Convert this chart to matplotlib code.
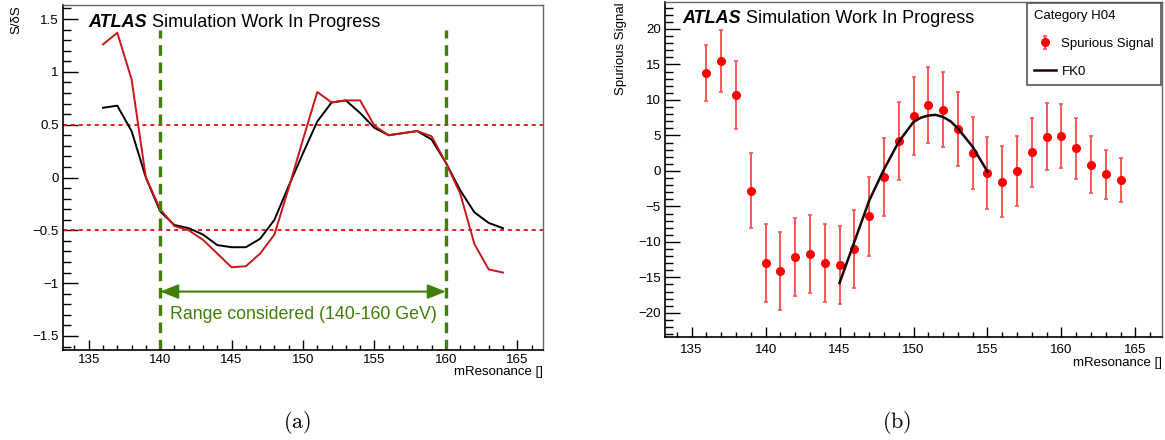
import numpy as np
import matplotlib
matplotlib.use("Agg")
import matplotlib.pyplot as plt
from matplotlib.ticker import MultipleLocator, FixedLocator, FixedFormatter

plt.rcParams['font.family'] = ['Liberation Sans', 'DejaVu Sans']
plt.rcParams['mathtext.fontset'] = 'cm'

# ---- panel (a): S/dS vs mResonance
mass = np.arange(136, 165)
sig_black = [0.66, 0.68, 0.44, 0.00, -0.32, -0.45, -0.48, -0.54, -0.64, -0.66,
             -0.66, -0.58, -0.40, -0.08, 0.23, 0.53, 0.71, 0.73, 0.61, 0.47,
             0.40, 0.42, 0.44, 0.36, 0.14, -0.12, -0.33, -0.43, -0.48]
sig_red = [1.26, 1.37, 0.93, 0.00, -0.30, -0.46, -0.50, -0.59, -0.72, -0.85,
           -0.84, -0.72, -0.54, -0.10, 0.36, 0.81, 0.71, 0.73, 0.73, 0.49,
           0.40, 0.42, 0.44, 0.39, 0.14, -0.15, -0.63, -0.87, -0.90]
yticks_a = [-1.5, -1, -0.5, 0, 0.5, 1, 1.5]
yticklabels_a = ["\u22121.5", "\u22121", "\u22120.5", "0", "0.5", "1", "1.5"]
xticks = [135, 140, 145, 150, 155, 160, 165]
xticklabels = ["135", "140", "145", "150", "155", "160", "165"]
range_lo, range_hi = 140, 160
thresh = 0.5

# ---- panel (b): spurious signal
ss_val = [13.8, 15.5, 10.7, -2.8, -13.0, -14.1, -12.1, -11.7, -13.0, -13.3,
          -11.0, -6.4, -0.9, 4.2, 7.8, 9.3, 8.6, 5.9, 2.5, -0.3,
          -1.5, 0.0, 2.6, 4.8, 4.9, 3.2, 0.9, -0.5, -1.3]
ss_err = [3.9, 4.4, 4.85, 5.3, 5.5, 5.5, 5.5, 5.5, 5.5, 5.5,
          5.5, 5.6, 5.5, 5.5, 5.5, 5.4, 5.3, 5.2, 5.1, 5.1,
          5.0, 4.9, 4.8, 4.7, 4.5, 4.3, 4.0, 3.5, 3.1]
fit_x = [145, 146, 147, 148, 149, 150, 150.5, 151, 151.5, 152, 152.5, 153, 154, 155]
fit_y = [-15.8, -10.0, -4.2, 0.2, 4.1, 6.9, 7.5, 7.8, 7.9, 7.6, 7.0, 6.0, 3.4, -0.1]
yticks_b = [-20, -15, -10, -5, 0, 5, 10, 15, 20]
yticklabels_b = ["\u221220", "\u221215", "\u221210", "\u22125", "0", "5", "10", "15", "20"]

green = '#3f7f0a'
dark_red = '#c81818'

fig = plt.figure(figsize=(11.65, 4.4), dpi=100)
ax1 = fig.add_axes([63/1165, 1-350/440, 480/1165, 345/440])
ax2 = fig.add_axes([665/1165, 1-337/440, 497/1165, 335/440])


def root_style(ax, xmaj_len=7.2, ymaj_len=10.8):
    for s in ['top', 'right']:
        ax.spines[s].set_color('#666666')
        ax.spines[s].set_linewidth(1.0)
    for s in ['left', 'bottom']:
        ax.spines[s].set_color('black')
        ax.spines[s].set_linewidth(1.2)
    ax.xaxis.set_major_locator(FixedLocator(xticks))
    ax.xaxis.set_major_formatter(FixedFormatter(xticklabels))
    ax.xaxis.set_minor_locator(MultipleLocator(1))
    ax.tick_params(axis='x', which='major', direction='in', length=xmaj_len, width=1.0, labelsize=9.6, pad=3)
    ax.tick_params(axis='x', which='minor', direction='in', length=xmaj_len/2, width=1.0)
    ax.tick_params(axis='y', which='major', direction='in', length=ymaj_len, width=1.0, labelsize=9.6, pad=3)
    ax.tick_params(axis='y', which='minor', direction='in', length=ymaj_len/2, width=1.0)
    ax.set_xlim(133.2, 166.8)


def atlas_label(ax, x, y):
    t = ax.text(x, y, 'ATLAS', transform=ax.transAxes, fontsize=13,
                fontweight='bold', fontstyle='italic', va='bottom', ha='left')
    ax.annotate(' Simulation Work In Progress', xy=(1, 0), xycoords=t,
                fontsize=13, va='bottom', ha='left')


# ---- (a)
root_style(ax1)
ax1.set_ylim(-1.633, 1.633)
ax1.yaxis.set_major_locator(FixedLocator(yticks_a))
ax1.yaxis.set_major_formatter(FixedFormatter(yticklabels_a))
ax1.yaxis.set_minor_locator(MultipleLocator(0.1))

ax1.axhline(thresh, color='#e01010', lw=1.3, dashes=(2.2, 2.2))
ax1.axhline(-thresh, color='#e01010', lw=1.3, dashes=(2.2, 2.2))
ax1.plot(mass, sig_black, color='black', lw=1.4)
ax1.plot(mass, sig_red, color=dark_red, lw=1.4)
ax1.vlines([range_lo, range_hi], -1.633, 1.4, colors=green, lw=2.4,
           linestyles=(0, (3.2, 2.0)))
ax1.annotate('', xy=(range_lo, -1.08), xytext=(range_hi, -1.08),
             arrowprops=dict(arrowstyle='<|-|>,head_length=0.55,head_width=0.22',
                             color=green, lw=1.5, mutation_scale=20,
                             shrinkA=0, shrinkB=0))
ax1.text((range_lo + range_hi) / 2 + 0.05, -1.30, 'Range considered (140-160 GeV)',
         color=green, fontsize=12.8, ha='center', va='center')
atlas_label(ax1, 0.052, 0.925)
ax1.text(-0.096, 1.0, 'S/\u03b4S', transform=ax1.transAxes, rotation=90,
         ha='center', va='top', fontsize=9.5)
ax1.text(1.0, -0.046, 'mResonance []', transform=ax1.transAxes,
         ha='right', va='top', fontsize=9.5)

# ---- (b)
root_style(ax2)
ax2.tick_params(axis='x', which='major', pad=5)
ax2.set_ylim(-23.4, 23.8)
ax2.yaxis.set_major_locator(FixedLocator(yticks_b))
ax2.yaxis.set_major_formatter(FixedFormatter(yticklabels_b))
ax2.yaxis.set_minor_locator(MultipleLocator(1))

eb = ax2.errorbar(mass, ss_val, yerr=ss_err, fmt='o', color='red', ms=5.5,
                  ecolor='#ff5555', elinewidth=1.4, capsize=1.6, capthick=1.2,
                  label='Spurious Signal', zorder=3)
fl, = ax2.plot(fit_x, fit_y, color='#1e0505', lw=1.8, label='FK0', zorder=4)
atlas_label(ax2, 0.034, 0.925)
ax2.text(-0.089, 1.0, 'Spurious Signal', transform=ax2.transAxes, rotation=90,
         ha='center', va='top', fontsize=9.5)
ax2.text(1.0, -0.06, 'mResonance []', transform=ax2.transAxes,
         ha='right', va='top', fontsize=9.5)
leg = ax2.legend(handles=[eb, fl], title='Category H04', loc='upper right',
                 fontsize=9.5, title_fontsize=9.5, fancybox=False, framealpha=1,
                 edgecolor='#555555', borderaxespad=0.1, borderpad=0.5,
                 labelspacing=1.2, handlelength=1.7, handletextpad=0.4,
                 alignment='left')
leg.get_frame().set_linewidth(1.2)

fig.text(297/1165, 1-422/440, r'$\mathrm{(a)}$', fontsize=16, ha='center', va='center')
fig.text(897/1165, 1-422/440, r'$\mathrm{(b)}$', fontsize=16, ha='center', va='center')

fig.savefig('out.png', dpi=100)
